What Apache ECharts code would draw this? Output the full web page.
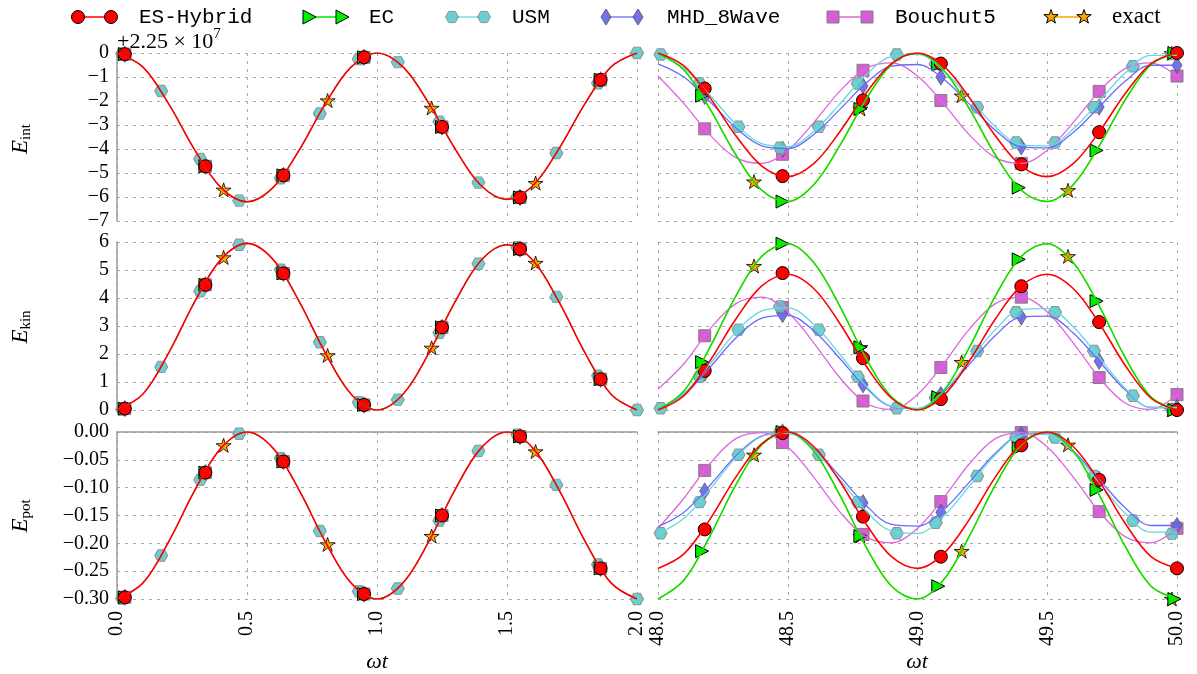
<!DOCTYPE html>
<html><head><meta charset="utf-8">
<script src="https://cdn.jsdelivr.net/npm/echarts@6/dist/echarts.min.js"></script>
<style>html,body{margin:0;padding:0;background:#fff}#c{width:1197px;height:674px}</style>
</head><body><div id="c"></div>
<script>
// ---------------- DATA ----------------
const seriesNames = ['ES-Hybrid', 'EC', 'USM', 'MHD_8Wave', 'Bouchut5', 'exact'];
const xTicksL = [0.0, 0.5, 1.0, 1.5, 2.0];
const xTicksR = [48.0, 48.5, 49.0, 49.5, 50.0];

// sample times of the curves
const xL = [0.0,0.1,0.2,0.3,0.4,0.5,0.6,0.7,0.8,0.9,1.0,1.1,1.2,1.3,1.4,1.5,1.6,1.7,1.8,1.9,2.0];
const xR = [48.0,48.1,48.2,48.3,48.4,48.5,48.6,48.7,48.8,48.9,49.0,49.1,49.2,49.3,49.4,49.5,49.6,49.7,49.8,49.9,50.0];

// left column: all schemes overlap
const leftInt = [0,-0.59,-2.14,-4.06,-5.61,-6.20,-5.61,-4.06,-2.14,-0.59,0,-0.58,-2.11,-3.99,-5.52,-6.10,-5.52,-3.99,-2.11,-0.58,0];
const leftKin = [0,0.57,2.06,3.89,5.38,5.95,5.38,3.89,2.06,0.57,0,0.56,2.04,3.86,5.34,5.90,5.34,3.86,2.04,0.56,0];
const leftPot = [-0.300,-0.271,-0.196,-0.104,-0.029,0,-0.029,-0.104,-0.196,-0.271,-0.300,-0.271,-0.196,-0.104,-0.029,0,-0.029,-0.104,-0.196,-0.271,-0.300];

// right column curves
const hybridIntR = [0.00,-0.54,-1.86,-3.45,-4.71,-5.15,-4.61,-3.29,-1.70,-0.44,0.00,-0.54,-1.86,-3.45,-4.71,-5.15,-4.61,-3.29,-1.70,-0.44,0.00];
const hybridKinR = [0.00,0.51,1.75,3.25,4.43,4.85,4.34,3.10,1.60,0.42,0.00,0.51,1.75,3.25,4.43,4.85,4.34,3.10,1.60,0.42,0.00];
const hybridPotR = [-0.245,-0.219,-0.157,-0.081,-0.021,0.000,-0.026,-0.088,-0.164,-0.224,-0.245,-0.219,-0.157,-0.081,-0.021,0.000,-0.026,-0.088,-0.164,-0.224,-0.245];

const ecIntR = [-0.01,-0.71,-2.33,-4.24,-5.72,-6.19,-5.49,-3.87,-1.96,-0.48,-0.01,-0.71,-2.33,-4.24,-5.72,-6.19,-5.49,-3.87,-1.96,-0.48,-0.01];
const ecKinR = [0.01,0.68,2.24,4.07,5.49,5.94,5.27,3.72,1.88,0.46,0.01,0.68,2.24,4.07,5.49,5.94,5.27,3.72,1.88,0.46,0.01];
const ecPotR = [-0.300,-0.266,-0.187,-0.095,-0.023,0.000,-0.034,-0.113,-0.205,-0.277,-0.300,-0.266,-0.187,-0.095,-0.023,0.000,-0.034,-0.113,-0.205,-0.277,-0.300];

const usmIntR = [-0.04,-0.64,-1.76,-2.96,-3.78,-3.90,-3.27,-2.13,-0.93,-0.14,-0.06,-0.73,-1.88,-3.07,-3.83,-3.87,-3.17,-2.01,-0.83,-0.10,-0.10];
const usmKinR = [0.03,0.60,1.64,2.78,3.54,3.65,3.06,2.00,0.87,0.13,0.06,0.68,1.76,2.87,3.59,3.62,2.97,1.88,0.78,0.09,0.09];
const usmPotR = [-0.183,-0.155,-0.103,-0.046,-0.008,-0.002,-0.032,-0.085,-0.141,-0.178,-0.182,-0.151,-0.097,-0.041,-0.006,-0.004,-0.036,-0.091,-0.146,-0.180,-0.180];

const mhdIntR = [-0.45,-1.00,-2.02,-3.12,-3.87,-3.98,-3.40,-2.36,-1.27,-0.55,-0.48,-1.08,-2.13,-3.22,-3.91,-3.95,-3.31,-2.25,-1.18,-0.51,-0.51];
const mhdKinR = [0.03,0.55,1.52,2.57,3.28,3.38,2.83,1.85,0.81,0.12,0.05,0.63,1.63,2.66,3.32,3.35,2.75,1.74,0.72,0.09,0.09];
const mhdPotR = [-0.170,-0.144,-0.096,-0.043,-0.007,-0.002,-0.030,-0.079,-0.131,-0.166,-0.169,-0.140,-0.090,-0.038,-0.005,-0.003,-0.034,-0.085,-0.136,-0.168,-0.168];

const bouIntR = [-0.96,-2.11,-3.41,-4.36,-4.60,-4.05,-2.90,-1.60,-0.65,-0.41,-0.96,-2.11,-3.41,-4.36,-4.60,-4.05,-2.90,-1.60,-0.65,-0.41,-0.96];
const bouKinR = [0.75,1.65,2.89,3.80,4.03,3.50,2.40,1.16,0.25,0.02,0.55,1.65,2.89,3.80,4.03,3.50,2.40,1.16,0.25,0.02,0.55];
const bouPotR = [-0.173,-0.119,-0.057,-0.012,-0.001,-0.027,-0.081,-0.143,-0.188,-0.199,-0.173,-0.119,-0.057,-0.012,-0.001,-0.027,-0.081,-0.143,-0.188,-0.199,-0.173];

const exactIntR = [-0.01,-0.71,-2.33,-4.24,-5.72,-6.19,-5.49,-3.87,-1.96,-0.48,-0.01,-0.71,-2.33,-4.24,-5.72,-6.19,-5.49,-3.87,-1.96,-0.48,-0.01];
const exactKinR = [0.01,0.68,2.24,4.07,5.49,5.94,5.27,3.72,1.88,0.46,0.01,0.68,2.24,4.07,5.49,5.94,5.27,3.72,1.88,0.46,0.01];
const exactPotR = [-0.300,-0.266,-0.187,-0.095,-0.023,0.000,-0.034,-0.113,-0.205,-0.277,-0.300,-0.266,-0.187,-0.095,-0.023,0.000,-0.034,-0.113,-0.205,-0.277,-0.300];

// markers, left column
const mkA_xL = [0.03,0.34,0.64,0.95,1.25,1.55,1.86];
const mkA_intL = [-0.05,-4.72,-5.10,-0.18,-3.08,-6.02,-1.12];
const mkA_kinL = [0.05,4.47,4.88,0.18,2.95,5.75,1.10];
const mkA_potL = [-0.297,-0.073,-0.053,-0.291,-0.150,-0.008,-0.245];
const mkU_xL = [0.02,0.17,0.32,0.47,0.63,0.78,0.93,1.08,1.24,1.39,1.54,1.69,1.85,2.0];
const mkU_intL = [-0.02,-1.58,-4.42,-6.15,-5.22,-2.52,-0.25,-0.38,-2.86,-5.40,-6.00,-4.17,-1.26,0.00];
const mkU_kinL = [0.02,1.54,4.24,5.90,5.01,2.42,0.28,0.37,2.76,5.22,5.81,4.04,1.22,0.00];
const mkU_potL = [-0.299,-0.222,-0.086,-0.003,-0.047,-0.178,-0.286,-0.281,-0.159,-0.034,-0.005,-0.095,-0.238,-0.300];
const mkS_xL = [0.41,0.81,1.21,1.61];
const mkS_intL = [-5.70,-1.98,-2.29,-5.42];
const mkS_kinL = [5.45,1.95,2.22,5.25];
const mkS_potL = [-0.024,-0.202,-0.187,-0.035];

// markers, right column
const mkA_xR = [48.18,48.48,48.79,49.09,49.40,49.70,50.0];
const hybMkInt = [-1.48,-5.13,-1.97,-0.44,-4.64,-3.30,0.00];
const hybMkKin = [1.40,4.89,1.85,0.39,4.42,3.14,0.00];
const hybMkPot = [-0.175,-0.002,-0.152,-0.224,-0.024,-0.086,-0.245];
const mkE_xR = [48.17,48.48,48.78,49.08,49.39,49.69,49.99];
const ecMkInt = [-1.78,-6.19,-2.33,-0.48,-5.61,-4.06,0.00];
const ecMkKin = [1.71,5.94,2.24,0.46,5.38,3.89,0.00];
const ecMkPot = [-0.214,0.000,-0.187,-0.277,-0.029,-0.104,-0.300];
const mhdMkInt = [-1.80,-4.01,-1.37,-1.00,-3.91,-2.25,-0.51];
const mhdMkKin = [1.31,3.41,0.90,0.55,3.32,1.74,0.09];
const mhdMkPot = [-0.106,0.000,-0.127,-0.144,-0.005,-0.085,-0.168];
const bouMkInt = [-3.16,-4.22,-0.72,-1.98,-4.60,-1.60,-0.96];
const bouMkKin = [2.65,3.66,0.32,1.52,4.03,1.16,0.55];
const bouMkPot = [-0.069,-0.019,-0.184,-0.125,-0.001,-0.143,-0.173];
const mkU_xR = [48.01,48.16,48.31,48.47,48.62,48.77,48.92,49.07,49.23,49.38,49.53,49.68,49.83,49.98];
const usmMkInt = [-0.06,-1.27,-3.07,-3.95,-3.07,-1.27,-0.06,-0.46,-2.26,-3.73,-3.73,-2.26,-0.55,-0.04];
const usmMkKin = [0.06,1.19,2.87,3.70,2.87,1.19,0.06,0.43,2.11,3.49,3.49,2.11,0.51,0.03];
const usmMkPot = [-0.182,-0.126,-0.041,0.000,-0.041,-0.126,-0.182,-0.163,-0.079,-0.010,-0.010,-0.079,-0.159,-0.183];
const mkS_xR = [48.37,48.78,49.17,49.58,49.98];
const exMkInt = [-5.36,-2.33,-1.78,-5.72,-0.01];
const exMkKin = [5.14,2.24,1.71,5.49,0.01];
const exMkPot = [-0.041,-0.187,-0.214,-0.023,-0.300];

// ---------------- CHART ----------------
const HEX = 'path://M-10,0L-5,-8.66L5,-8.66L10,0L5,8.66L-5,8.66Z';
const STAR = 'path://M0,-10L2.23,-3.07L9.51,-3.09L3.61,1.17L5.88,8.09L0,3.8L-5.88,8.09L-3.61,1.17L-9.51,-3.09L-2.23,-3.07Z';
const ST = {
  'ES-Hybrid': {line:'#ff0000', lw:1.6, symbol:'circle', size:13, rot:0, fill:'#ff0000', edge:'#000', ew:1, op:1},
  'EC': {line:'#00e600', lw:1.5, symbol:'triangle', size:[13,13], rot:-90, fill:'#00ee00', edge:'#000', ew:1, op:1},
  'USM': {line:'#66d8dd', lw:1.3, symbol:HEX, size:[13,11.5], rot:0, fill:'#5ccaca', edge:'#8a8a8a', ew:1, op:0.9},
  'MHD_8Wave': {line:'#6a6aff', lw:1.3, symbol:'diamond', size:[10,16], rot:0, fill:'#6565e8', edge:'#555', ew:0.8, op:0.9},
  'Bouchut5': {line:'#dd66dd', lw:1.3, symbol:'rect', size:12, rot:0, fill:'#d45fd4', edge:'#808080', ew:1, op:1},
  'exact': {line:'#ffa500', lw:1.3, symbol:STAR, size:[15,14], rot:0, fill:'#ffa500', edge:'#000', ew:0.8, op:1}
};
const CURVES = {
  'ES-Hybrid': {L:[leftInt,leftKin,leftPot], R:[hybridIntR,hybridKinR,hybridPotR]},
  'EC': {L:[leftInt,leftKin,leftPot], R:[ecIntR,ecKinR,ecPotR]},
  'USM': {L:[leftInt,leftKin,leftPot], R:[usmIntR,usmKinR,usmPotR]},
  'MHD_8Wave': {L:[leftInt,leftKin,leftPot], R:[mhdIntR,mhdKinR,mhdPotR]},
  'Bouchut5': {L:[leftInt,leftKin,leftPot], R:[bouIntR,bouKinR,bouPotR]},
  'exact': {L:[leftInt,leftKin,leftPot], R:[exactIntR,exactKinR,exactPotR]}
};
const MARKS = {
  'ES-Hybrid': {Lx:mkA_xL, L:[mkA_intL,mkA_kinL,mkA_potL], Rx:mkA_xR, R:[hybMkInt,hybMkKin,hybMkPot]},
  'EC': {Lx:mkA_xL, L:[mkA_intL,mkA_kinL,mkA_potL], Rx:mkE_xR, R:[ecMkInt,ecMkKin,ecMkPot]},
  'USM': {Lx:mkU_xL, L:[mkU_intL,mkU_kinL,mkU_potL], Rx:mkU_xR, R:[usmMkInt,usmMkKin,usmMkPot]},
  'MHD_8Wave': {Lx:mkA_xL, L:[mkA_intL,mkA_kinL,mkA_potL], Rx:mkA_xR, R:[mhdMkInt,mhdMkKin,mhdMkPot]},
  'Bouchut5': {Lx:mkA_xL, L:[mkA_intL,mkA_kinL,mkA_potL], Rx:mkA_xR, R:[bouMkInt,bouMkKin,bouMkPot]},
  'exact': {Lx:mkS_xL, L:[mkS_intL,mkS_kinL,mkS_potL], Rx:mkS_xR, R:[exMkInt,exMkKin,exMkPot]}
};

const pairs = (xs, ys) => xs.map((x, i) => [x, ys[i]]);
const SERIF = 'Liberation Serif';
const GRIDC = '#a8a8a8';
const rowTop = [53, 242, 432], rowH = [168, 168, 167];
const colLeft = [117, 658], colW = [520, 519];
const yRange = [{min:-7, max:0, interval:1}, {min:0, max:6, interval:1}, {min:-0.30, max:0, interval:0.05}];
const fmtInt = v => (v < 0 ? '\u2212' + Math.abs(v) : String(v));
const fmtPot = v => Math.abs(v) < 1e-9 ? '0.00' : (v < 0 ? '\u2212' : '') + Math.abs(v).toFixed(2);

const grid = [], xAxis = [], yAxis = [];
for (let r = 0; r < 3; r++) {
  for (let c = 0; c < 2; c++) {
    const gi = r * 2 + c;
    grid.push({left: colLeft[c], top: rowTop[r], width: colW[c], height: rowH[r]});
    const ticks = c === 0 ? xTicksL : xTicksR;
    xAxis.push({
      type: 'value', gridIndex: gi, min: ticks[0], max: ticks[ticks.length - 1], interval: 0.5,
      axisLine: {show: r === 2, lineStyle: {color: '#9a9a9a', width: 1.5}},
      axisTick: {show: false},
      axisLabel: {show: r === 2, rotate: 90, margin: 12, fontFamily: SERIF, fontSize: 20, color: '#000',
                  formatter: v => v.toFixed(1)},
      splitLine: {show: true, lineStyle: {color: GRIDC, type: [3, 5], width: 1}}
    });
    yAxis.push({
      type: 'value', gridIndex: gi, min: yRange[r].min, max: yRange[r].max, interval: yRange[r].interval,
      axisLine: {show: c === 0, lineStyle: {color: '#9a9a9a', width: 1.5}},
      axisTick: {show: false},
      axisLabel: {show: c === 0, margin: 8, fontFamily: SERIF, fontSize: 20, color: '#000',
                  formatter: r === 2 ? fmtPot : fmtInt},
      splitLine: {show: true, lineStyle: {color: GRIDC, type: [3, 5], width: 1}}
    });
  }
}

const drawOrder = ['exact', 'Bouchut5', 'MHD_8Wave', 'USM', 'EC', 'ES-Hybrid'];
const series = [];
drawOrder.forEach(name => {
  const s = ST[name];
  for (let r = 0; r < 3; r++) {
    for (let c = 0; c < 2; c++) {
      const gi = r * 2 + c;
      const xs = c === 0 ? xL : xR;
      const ys = c === 0 ? CURVES[name].L[r] : CURVES[name].R[r];
      const w = (c === 0 && name !== 'ES-Hybrid') ? 0.9 : s.lw;
      series.push({
        name, type: 'line', xAxisIndex: gi, yAxisIndex: gi, data: pairs(xs, ys),
        smooth: 0.35, showSymbol: false, symbol: 'none', silent: true, animation: false,
        lineStyle: {color: s.line, width: w}, itemStyle: {color: s.line}
      });
      const mx = c === 0 ? MARKS[name].Lx : MARKS[name].Rx;
      const my = c === 0 ? MARKS[name].L[r] : MARKS[name].R[r];
      series.push({
        name, type: 'scatter', xAxisIndex: gi, yAxisIndex: gi, data: pairs(mx, my),
        symbol: s.symbol, symbolSize: s.size, symbolRotate: s.rot, silent: true, animation: false,
        itemStyle: {color: s.fill, borderColor: s.edge, borderWidth: s.ew, opacity: s.op}
      });
    }
  }
});

// legend drawn as graphics (marker - line - marker, then label)
const legendPos = {
  'ES-Hybrid': [78, 111, 139], 'EC': [309, 342, 369], 'USM': [452, 484, 512],
  'MHD_8Wave': [606, 638, 667], 'Bouchut5': [833, 867, 895], 'exact': [1051, 1084, 1112]
};
function legendMarker(name, cx, cy) {
  const s = ST[name];
  const st = {fill: s.fill, stroke: s.edge, lineWidth: 1, opacity: s.op};
  if (name === 'ES-Hybrid') return {type: 'circle', shape: {cx, cy, r: 6.5}, style: st};
  if (name === 'EC') return {type: 'polygon', shape: {points: [[cx - 6, cy - 7], [cx + 7, cy], [cx - 6, cy + 7]]}, style: st};
  if (name === 'USM') return {type: 'polygon', shape: {points: [[cx - 6.5, cy], [cx - 3.25, cy - 5.6], [cx + 3.25, cy - 5.6], [cx + 6.5, cy], [cx + 3.25, cy + 5.6], [cx - 3.25, cy + 5.6]]}, style: st};
  if (name === 'MHD_8Wave') return {type: 'polygon', shape: {points: [[cx, cy - 8], [cx + 5, cy], [cx, cy + 8], [cx - 5, cy]]}, style: st};
  if (name === 'Bouchut5') return {type: 'rect', shape: {x: cx - 6, y: cy - 6, width: 12, height: 12}, style: st};
  const pts = [];
  for (let k = 0; k < 10; k++) {
    const a = -Math.PI / 2 + k * Math.PI / 5, rr = k % 2 === 0 ? 7.5 : 3.0;
    pts.push([cx + rr * Math.cos(a), cy + rr * Math.sin(a)]);
  }
  return {type: 'polygon', shape: {points: pts}, style: st};
}
const graphic = [];
const LY = 17;
seriesNames.forEach(name => {
  const p = legendPos[name], s = ST[name];
  graphic.push({type: 'line', shape: {x1: p[0], y1: LY, x2: p[1], y2: LY}, style: {stroke: s.line, lineWidth: s.lw}});
  graphic.push(legendMarker(name, p[0], LY));
  graphic.push(legendMarker(name, p[1], LY));
  graphic.push({type: 'text', x: p[2], y: LY, style: {
    text: name, fill: '#000', verticalAlign: 'middle', align: 'left',
    font: name === 'exact' ? '23px "Liberation Serif"' : '21px "Liberation Mono"'}});
});
// offset text
graphic.push({type: 'text', x: 117, y: 40, style: {
  text: '{n|+2.25 \u00d7 10}{p|7}', verticalAlign: 'middle', align: 'left',
  rich: {n: {fontFamily: SERIF, fontSize: 22, lineHeight: 26, verticalAlign: 'bottom', fill: '#000'},
         p: {fontFamily: SERIF, fontSize: 15, lineHeight: 18, verticalAlign: 'top', fill: '#000'}}}});
// y labels
const yNames = ['int', 'kin', 'pot'];
const yCenters = [139, 327, 516];
yNames.forEach((sub, r) => {
  graphic.push({type: 'text', x: 22, y: yCenters[r], rotation: Math.PI / 2, style: {
    text: '{e|E}{s|' + sub + '}', align: 'center', verticalAlign: 'middle',
    rich: {e: {fontFamily: SERIF, fontStyle: 'italic', fontSize: 23, lineHeight: 26, verticalAlign: 'top', fill: '#000'},
           s: {fontFamily: SERIF, fontSize: 15, lineHeight: 18, padding: [10, 0, 0, 0], verticalAlign: 'top', fill: '#000'}}}});
});
// x labels
[377, 917].forEach(cx => {
  graphic.push({type: 'text', x: cx, y: 662, style: {
    text: '\u03c9t', align: 'center', verticalAlign: 'middle', font: 'italic 22px "Liberation Serif"', fill: '#000'}});
});

const chart = echarts.init(document.getElementById('c'), null, {renderer: 'canvas'});
chart.setOption({animation: false, backgroundColor: '#fff', grid, xAxis, yAxis, series, graphic});
</script></body></html>
